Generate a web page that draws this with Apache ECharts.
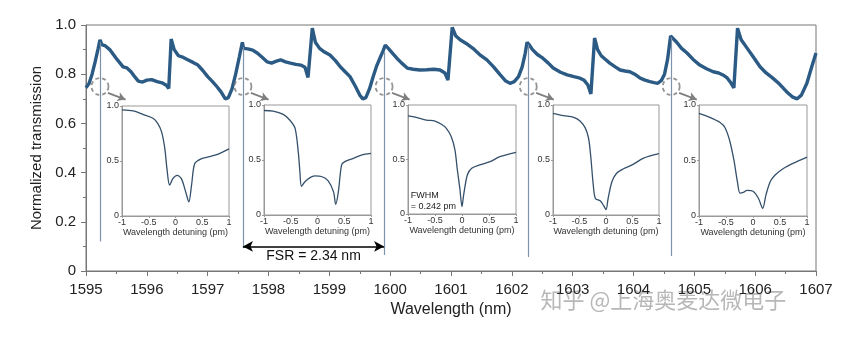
<!DOCTYPE html>
<html><head><meta charset="utf-8">
<script src="https://cdn.jsdelivr.net/npm/echarts@6/dist/echarts.min.js"></script>
<style>html,body{margin:0;padding:0;background:#fff}#c{width:860px;height:337px}</style>
</head><body><div id="c"></div>
<script>
// ---- main spectrum ----
const wavelength = [1595.00,1595.05,1595.10,1595.15,1595.20,1595.23,
 1595.26,1595.32,1595.39,1595.45,1595.51,1595.56,1595.61,1595.67,1595.74,1595.80,1595.86,1595.93,1596.00,1596.08,1596.17,1596.25,1596.32,1596.36,
 1596.40,1596.45,1596.52,1596.60,1596.68,1596.76,1596.84,1596.92,1597.00,1597.08,1597.15,1597.22,1597.29,1597.34,1597.40,1597.46,1597.52,1597.57,
 1597.59,1597.66,1597.74,1597.82,1597.90,1597.98,1598.05,1598.12,1598.20,1598.28,1598.36,1598.45,1598.53,1598.60,1598.65,
 1598.72,1598.77,1598.84,1598.92,1599.01,1599.10,1599.18,1599.26,1599.34,1599.43,1599.50,1599.55,1599.60,1599.66,1599.72,1599.78,1599.84,1599.88,
 1599.92,1599.97,1600.04,1600.11,1600.19,1600.28,1600.38,1600.49,1600.60,1600.72,1600.82,1600.90,1600.95,
 1601.02,1601.08,1601.15,1601.25,1601.36,1601.47,1601.59,1601.70,1601.81,1601.90,1601.97,1602.04,1602.11,1602.17,1602.22,1602.25,
 1602.29,1602.34,1602.42,1602.51,1602.60,1602.68,1602.80,1602.91,1603.02,1603.12,1603.19,1603.25,1603.30,
 1603.36,1603.41,1603.47,1603.54,1603.61,1603.70,1603.78,1603.86,1603.94,1604.02,1604.11,1604.19,1604.27,1604.34,1604.40,1604.46,1604.51,1604.56,1604.61,
 1604.65,1604.71,1604.79,1604.88,1604.98,1605.09,1605.20,1605.31,1605.40,1605.47,1605.54,1605.60,1605.65,
 1605.71,1605.77,1605.87,1605.97,1606.08,1606.18,1606.29,1606.40,1606.52,1606.61,1606.69,1606.76,1606.85,1606.93,1607.00];
const transmission = [0.745,0.762,0.80,0.85,0.905,0.94,
 0.92,0.915,0.90,0.88,0.86,0.845,0.83,0.826,0.81,0.79,0.772,0.768,0.776,0.778,0.770,0.765,0.755,0.742,
 0.943,0.90,0.875,0.868,0.858,0.848,0.837,0.815,0.790,0.770,0.750,0.728,0.700,0.705,0.74,0.80,0.87,0.93,
 0.905,0.903,0.898,0.885,0.868,0.850,0.845,0.852,0.858,0.850,0.845,0.840,0.837,0.828,0.787,
 0.987,0.93,0.905,0.89,0.878,0.855,0.83,0.81,0.79,0.75,0.715,0.70,0.705,0.74,0.79,0.835,0.87,0.893,
 0.918,0.905,0.885,0.865,0.845,0.825,0.82,0.817,0.818,0.82,0.817,0.805,0.776,
 0.99,0.955,0.94,0.925,0.905,0.88,0.858,0.83,0.797,0.772,0.763,0.770,0.790,0.83,0.885,0.93,
 0.918,0.90,0.88,0.865,0.845,0.825,0.808,0.797,0.790,0.784,0.775,0.756,0.72,
 0.947,0.90,0.875,0.86,0.845,0.83,0.817,0.813,0.81,0.80,0.784,0.776,0.77,0.766,0.763,0.775,0.80,0.86,0.955,
 0.945,0.93,0.905,0.886,0.86,0.837,0.822,0.81,0.805,0.797,0.785,0.765,0.744,
 0.987,0.94,0.905,0.87,0.83,0.805,0.784,0.76,0.728,0.708,0.70,0.715,0.763,0.83,0.886];

// resonance dips (narrow drops in the main spectrum)
const dipWavelength = [1595.23, 1597.58, 1599.90, 1602.27, 1604.62];
const dipTop = [0.93, 0.91, 0.89, 0.92, 0.95];
const dipMin = [0.12, 0.093, 0.065, 0.057, 0.061];

// ---- insets: wavelength detuning (pm) vs transmission ----
const inset1Detuning = [-1,-0.79,-0.61,-0.42,-0.33,-0.26,-0.20,-0.16,-0.11,-0.05,0.03,0.11,0.19,0.25,0.30,0.36,0.48,0.64,0.83,1];
const inset1Trans    = [0.964,0.955,0.924,0.888,0.84,0.765,0.614,0.43,0.28,0.34,0.37,0.34,0.22,0.128,0.28,0.477,0.52,0.54,0.57,0.61];
const inset2Detuning = [-1,-0.83,-0.64,-0.52,-0.42,-0.36,-0.33,-0.30,-0.24,-0.14,-0.05,0.075,0.2,0.30,0.34,0.39,0.45,0.51,0.67,0.82,1];
const inset2Trans    = [0.95,0.945,0.915,0.864,0.79,0.576,0.40,0.26,0.30,0.34,0.355,0.35,0.31,0.21,0.097,0.21,0.455,0.485,0.515,0.545,0.56];
const inset3Detuning = [-1,-0.85,-0.66,-0.50,-0.38,-0.29,-0.20,-0.13,-0.09,-0.04,0,0.03,0.10,0.18,0.33,0.52,0.70,1];
const inset3Trans    = [0.90,0.887,0.862,0.853,0.823,0.786,0.71,0.587,0.42,0.235,0.067,0.174,0.36,0.42,0.45,0.48,0.526,0.566];
const inset4Detuning = [-1,-0.8,-0.61,-0.49,-0.39,-0.33,-0.29,-0.24,-0.20,-0.11,-0.05,0,0.04,0.11,0.2,0.33,0.51,0.7,1];
const inset4Trans    = [0.924,0.903,0.888,0.855,0.79,0.70,0.545,0.27,0.15,0.13,0.09,0.05,0.15,0.30,0.38,0.42,0.46,0.515,0.557];
const inset5Detuning = [-1,-0.8,-0.61,-0.52,-0.43,-0.35,-0.29,-0.24,-0.18,-0.11,0.006,0.10,0.18,0.24,0.32,0.41,0.57,0.75,1];
const inset5Trans    = [0.924,0.888,0.842,0.797,0.676,0.494,0.312,0.206,0.212,0.23,0.221,0.16,0.07,0.19,0.31,0.37,0.43,0.476,0.53];

const mainTicksY = ['0','0.2','0.4','0.6','0.8','1.0'];
const insetTicksY = ['0','0.5','1.0'];
const fsrText = 'FSR = 2.34 nm';
const fwhmText = 'FWHM\n= 0.242 pm';

const FONT = 'Liberation Sans, Arial, sans-serif';
const insetDet = [inset1Detuning, inset2Detuning, inset3Detuning, inset4Detuning, inset5Detuning];
const insetTr = [inset1Trans, inset2Trans, inset3Trans, inset4Trans, inset5Trans];
const insetBoxes = [[122,106,107,110],[264,105,107,110],[408,105,108,109],[553,105,106,110],[699,105,108,111]];

const zip = (a,b) => a.map((v,i)=>[v,b[i]]);

const grids = [{left:86, right:44, top:25, bottom:66, show:true, borderColor:'#777', borderWidth:1}];
insetBoxes.forEach(b => grids.push({left:b[0], top:b[1], width:b[2], height:b[3], show:true, backgroundColor:'#fff', borderColor:'#999', borderWidth:1}));

const xAxes = [{
  gridIndex:0, type:'value', min:1595, max:1607, interval:1,
  name:'Wavelength (nm)', nameLocation:'middle', nameGap:30,
  nameTextStyle:{fontFamily:FONT, fontSize:16, color:'#222'},
  axisLine:{onZero:false, lineStyle:{color:'#777'}}, axisTick:{length:5, lineStyle:{color:'#777'}},
  minorTick:{show:true, splitNumber:2, length:3, lineStyle:{color:'#777'}},
  axisLabel:{fontFamily:FONT, fontSize:15, color:'#222', margin:11, formatter:(v)=>String(Math.round(v))},
  splitLine:{show:false}
}];
const yAxes = [{
  gridIndex:0, type:'value', min:0, max:1, interval:0.2,
  name:'Normalized transmission', nameLocation:'middle', nameGap:36,
  nameTextStyle:{fontFamily:FONT, fontSize:15, color:'#222'},
  axisLine:{show:true, onZero:false, lineStyle:{color:'#777'}}, axisTick:{show:true, length:5, lineStyle:{color:'#777'}},
  minorTick:{show:true, splitNumber:2, length:3, lineStyle:{color:'#777'}},
  axisLabel:{fontFamily:FONT, fontSize:15, color:'#222', margin:10, formatter:(v)=>mainTicksY[Math.round(v*5)]},
  splitLine:{show:false}
}];
for (let i=1;i<=5;i++){
  xAxes.push({gridIndex:i, type:'value', min:-1, max:1, interval:0.5,
    name:'Wavelength detuning (pm)', nameLocation:'middle', nameGap:12,
    nameTextStyle:{fontFamily:FONT, fontSize:9, color:'#333'},
    axisLine:{onZero:false, lineStyle:{color:'#999'}}, axisTick:{length:2, lineStyle:{color:'#999'}},
    axisLabel:{fontFamily:FONT, fontSize:9, color:'#333', margin:2},
    splitLine:{show:false}});
  yAxes.push({gridIndex:i, type:'value', min:0, max:1, interval:0.5,
    axisLine:{show:true, onZero:false, lineStyle:{color:'#999'}}, axisTick:{show:true, length:2, lineStyle:{color:'#999'}},
    axisLabel:{fontFamily:FONT, fontSize:9, color:'#333', margin:3, formatter:(v)=>insetTicksY[Math.round(v*2)]},
    splitLine:{show:false}});
}

const series = [];
series.push({
  type:'line', xAxisIndex:0, yAxisIndex:0, data:zip(wavelength, transmission),
  showSymbol:false, symbol:'none', lineStyle:{color:'#2b5a84', width:3.4}, z:3, silent:true,
  markLine:{silent:true, symbol:'none', label:{show:false},
    lineStyle:{color:'#7c93ab', width:1.2, type:'solid'},
    data: dipWavelength.map((x,i)=>[{coord:[x, dipTop[i]]},{coord:[x, dipMin[i]]}])}
});
series.push({
  type:'scatter', xAxisIndex:0, yAxisIndex:0, data:dipWavelength.map(x=>[x,0.75]),
  symbol:'circle', symbolSize:17, silent:true, z:4,
  itemStyle:{color:'rgba(0,0,0,0)', borderColor:'#7a7a7a', borderWidth:1.8, borderType:[4,3]},
  markLine:{silent:true, symbol:['none','arrow'], symbolSize:[7,8], label:{show:false},
    lineStyle:{color:'#7f7f7f', width:1.8, type:'solid'},
    data: dipWavelength.map(x=>[{coord:[x+0.13, 0.724]},{coord:[x+0.42, 0.697]}])}
});
series.push({
  type:'line', xAxisIndex:0, yAxisIndex:0, data:[], silent:true,
  markLine:{silent:true, symbol:['arrow','arrow'], symbolSize:[8,10],
    lineStyle:{color:'#000', width:1.6, type:'solid'},
    label:{show:true, position:'insideMiddleBottom', formatter:fsrText, fontFamily:FONT, fontSize:14, color:'#111', distance:3},
    data:[[{coord:[dipWavelength[1], 0.10]},{coord:[dipWavelength[2], 0.10]}]]}
});
for (let i=0;i<5;i++){
  const s = {type:'line', xAxisIndex:i+1, yAxisIndex:i+1, data:zip(insetDet[i], insetTr[i]),
    showSymbol:false, symbol:'none', smooth:0.3, lineStyle:{color:'#34506b', width:1.3}, silent:true, z:5};
  if (i===2){
    s.markPoint = {silent:true, symbol:'circle', symbolSize:0,
      label:{show:true, position:'right', distance:0, formatter:fwhmText, fontFamily:FONT, fontSize:9, lineHeight:11, color:'#222'},
      data:[{coord:[-0.95, 0.12]}]};
  }
  series.push(s);
}

const chart = echarts.init(document.getElementById('c'), null, {renderer:'canvas'});
chart.setOption({
  animation:false, backgroundColor:'#fff',
  grid:grids, xAxis:xAxes, yAxis:yAxes, series:series,
  graphic:[{type:'text', left:540, top:288, silent:true,
    style:{text:'知乎 @上海奥麦达微电子', fontSize:22, fontFamily:'Noto Sans CJK SC',
      fill:'rgba(135,135,135,0.6)', stroke:'rgba(255,255,255,0.7)', lineWidth:1}}]
});
</script>
</body></html>
